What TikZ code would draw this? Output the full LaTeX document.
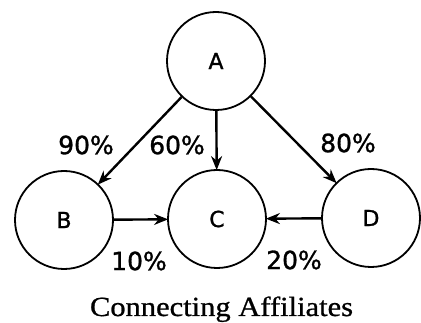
\documentclass[tikz,border=0pt]{standalone}
\usepackage{fontspec}
\newfontfamily\labelfont[FakeBold=1.2]{DejaVu Sans}
\newfontfamily\captionfont[FakeBold=0.8]{Liberation Serif}
\usetikzlibrary{arrows.meta}
\tikzset{
  firm/.style={circle, draw, line width=1.8pt, minimum size=98pt, inner sep=0pt,
    font=\labelfont\fontsize{22}{24}\selectfont},
  share/.style={-{Stealth[length=14pt,width=11pt]}, line width=2.4pt, shorten >=-1pt},
  pct/.style={inner sep=0pt, font=\labelfont\fontsize{25}{27}\selectfont},
}
\begin{document}
\begin{tikzpicture}[x=1pt, y=-1pt]
  \useasboundingbox (0,0) rectangle (421,323);

  % affiliated companies
  \node[firm] (A) at (216,61)  {A};
  \node[firm] (B) at (64,220)  {B};
  \node[firm] (C) at (217,219) {C};
  \node[firm] (D) at (371,218) {D};

  % ownership links
  \draw[share] (A) -- (B);
  \draw[share] (A) -- (C);
  \draw[share] (A) -- (D);
  \draw[share] (B) -- (C);
  \draw[share] (D) -- (C);

  % ownership percentages
  \node[pct] (p90) at (86,145)  {90\%};
  \node[pct] (p60) at (177,145) {60\%};
  \node[pct] (p80) at (348,143) {80\%};
  \node[pct] (p10) at (139,261) {10\%};
  \node[pct] (p20) at (294,260) {20\%};

  % caption
  \node[anchor=base, inner sep=0pt, font=\captionfont\fontsize{25}{27}\selectfont] (cap) at (221.5,316)
    {\resizebox{263pt}{19.5pt}{Connecting Affiliates}};
\end{tikzpicture}
\end{document}
